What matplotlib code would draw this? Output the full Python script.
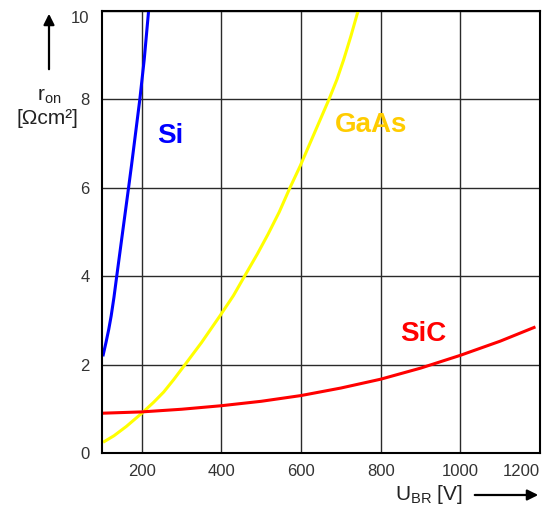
import matplotlib.pyplot as plt

plt.rcParams['font.family'] = ['Liberation Sans', 'DejaVu Sans']
plt.rcParams['mathtext.fontset'] = 'custom'
plt.rcParams['mathtext.rm'] = 'Liberation Sans'

# values
si_x = [103, 110, 117, 123, 130, 137, 145, 153, 160, 167, 174, 181, 188, 195, 206, 217]
si_y = [2.22, 2.5, 2.8, 3.1, 3.52, 4.0, 4.54, 5.08, 5.55, 6.02, 6.5, 7.0, 7.5, 8.0, 8.9, 10]

gaas_x = [106, 130, 161, 200, 230, 255, 280, 311, 350, 396, 430, 458, 490, 517,
          545, 572, 598, 622, 646, 670, 690, 707, 725, 743]
gaas_y = [0.26, 0.39, 0.6, 0.9, 1.15, 1.38, 1.66, 2.03, 2.5, 3.1, 3.56, 4.0, 4.5, 4.95,
          5.45, 6.0, 6.5, 7.0, 7.5, 8.0, 8.45, 8.9, 9.43, 10.0]

sic_x = [100, 200, 300, 400, 500, 600, 700, 800, 900, 1000, 1100, 1185]
sic_y = [0.9, 0.93, 0.99, 1.07, 1.17, 1.30, 1.47, 1.67, 1.92, 2.21, 2.53, 2.84]

xticks = [200, 400, 600, 800, 1000, 1200]
yticks = [0, 2, 4, 6, 8, 10]

W, H = 547, 508
fig = plt.figure(figsize=(W / 100, H / 100), dpi=100)
ax = fig.add_axes([102 / W, 1 - 453 / H, (540 - 102) / W, (453 - 11) / H])

ax.plot(si_x, si_y, color='#0000ff', lw=2.2)
ax.plot(gaas_x, gaas_y, color='#ffff00', lw=2.2)
ax.plot(sic_x, sic_y, color='#ff0000', lw=2.2)

ax.text(272, 7.18, 'Si', color='#0000ff', fontsize=20, fontweight='bold', ha='center', va='center')
ax.text(776, 7.41, 'GaAs', color='#ffcc00', fontsize=20, fontweight='bold', ha='center', va='center')
ax.text(907, 2.69, 'SiC', color='#ff0000', fontsize=20, fontweight='bold', ha='center', va='center')

ax.set_xlim(100, 1200)
ax.set_ylim(0, 10)
ax.set_xticks(xticks)
ax.set_yticks(yticks)
ax.grid(True, color='#2a2a2a', lw=1.0)
ax.tick_params(length=0, labelsize=12, labelcolor='#333333')
ax.tick_params(axis='x', pad=8)
ax.tick_params(axis='y', pad=9)
ax.get_xticklabels()[-1].set_horizontalalignment('right')
ax.get_yticklabels()[-1].set_verticalalignment('top')
for s in ax.spines.values():
    s.set_linewidth(1.5)
    s.set_color('black')

# axis labels and arrows
fig.text(49 / W, 1 - 100 / H, r'r$_{\rm on}$', fontsize=15, ha='center', va='baseline', color='#222222')
fig.text(47 / W, 1 - 118 / H, '[Ωcm²]', fontsize=15, ha='center', va='center', color='#222222')
fig.text(429 / W, 1 - 495 / H, r'U$_{\rm BR}$ [V]', fontsize=15, ha='center', va='center', color='#222222')

ax.annotate('', xy=(49, H - 11), xytext=(49, H - 72), xycoords='figure pixels',
            arrowprops=dict(arrowstyle='-|>', lw=1.6, color='black', mutation_scale=16))
ax.annotate('', xy=(541, H - 495), xytext=(472, H - 495), xycoords='figure pixels',
            arrowprops=dict(arrowstyle='-|>', lw=1.6, color='black', mutation_scale=16))

plt.savefig('out.png', dpi=100)
